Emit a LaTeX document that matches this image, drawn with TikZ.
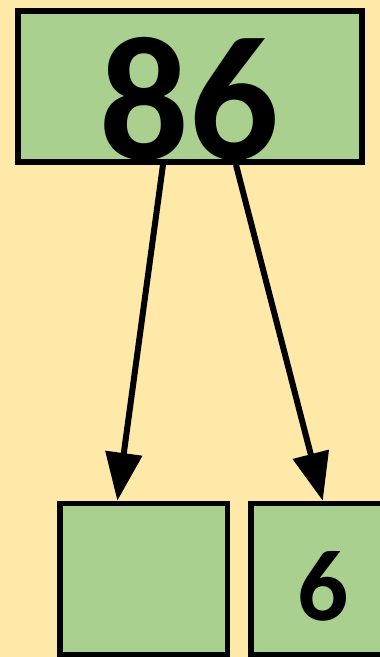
\documentclass[tikz,border=0pt]{standalone}
\usepackage{fontspec}
\setmainfont{Carlito}
\usetikzlibrary{arrows.meta}
\definecolor{bgyellow}{HTML}{FFE9A9}
\definecolor{boxgreen}{HTML}{A9D08E}
\tikzset{
  box/.style={draw=black, fill=boxgreen, line width=5.5pt, inner sep=0pt},
  digits/.style={font=\bfseries, inner sep=0pt, anchor=base},
  conn/.style={line width=6pt, -{Triangle[length=48pt,width=36pt]}}
}
\begin{document}
\begin{tikzpicture}[x=1pt,y=-1pt]
\useasboundingbox (0,0) rectangle (380,657);
\clip (0,0) rectangle (380,657);
\fill[bgyellow] (0,0) rectangle (380,657);
\node[box, minimum width=344pt, minimum height=151pt] (top) at (190,86.5) {};
\node[digits, font=\bfseries\fontsize{177}{177}\selectfont] (t86) at (189.7,159) {86};
\node[box, minimum width=167.5pt, minimum height=151pt] (left) at (143.75,579) {};
\node[box, minimum width=167.5pt, minimum height=151pt] (right) at (334.75,579) {};
\node[digits, font=\bfseries\fontsize{101}{101}\selectfont] (r6) at (322.7,620) {6};
\draw[conn] ([xshift=-27pt]top.south) -- ([xshift=-26.4pt]left.north);
\draw[conn] ([xshift=46pt]top.south) -- ([xshift=-12pt]right.north);
\end{tikzpicture}
\end{document}
